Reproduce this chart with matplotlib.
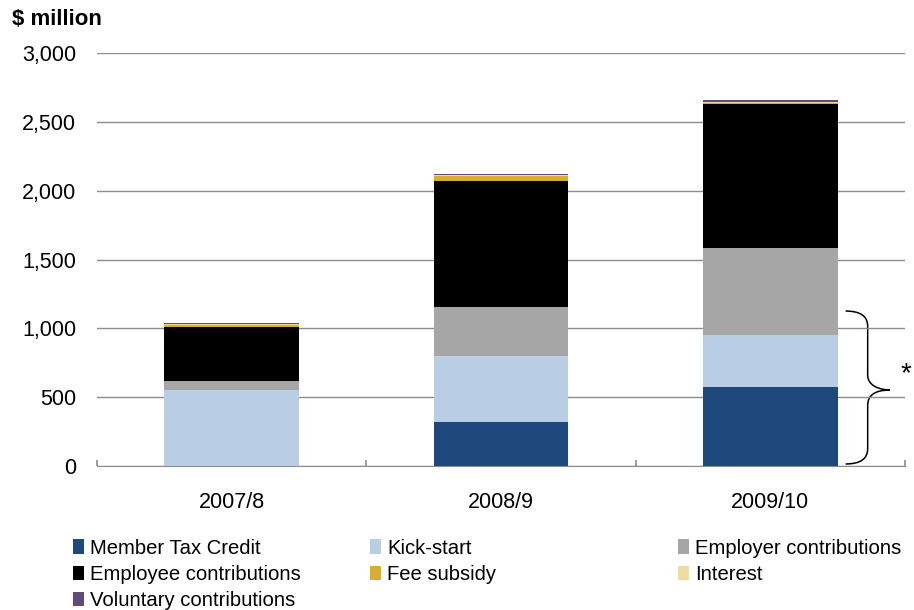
import numpy as np
import matplotlib.pyplot as plt
from matplotlib.path import Path
from matplotlib.patches import PathPatch, Patch

plt.rcParams['font.family'] = ['Liberation Sans', 'DejaVu Sans']

years = ['2007/8', '2008/9', '2009/10']
member_tax_credit = [0, 319, 573]
kick_start = [552, 480, 378]
employer = [65, 355, 632]
employee = [392, 915, 1045]
fee_subsidy = [16, 36, 10]
interest = [8, 12, 6]
voluntary = [5, 8, 13]

series = [
    ('Member Tax Credit', member_tax_credit, '#1F497D'),
    ('Kick-start', kick_start, '#B9CDE5'),
    ('Employer contributions', employer, '#A6A6A6'),
    ('Employee contributions', employee, '#000000'),
    ('Fee subsidy', fee_subsidy, '#D9AE2F'),
    ('Interest', interest, '#F0DCA0'),
    ('Voluntary contributions', voluntary, '#604A7B'),
]

fig = plt.figure(figsize=(9.14, 6.10), dpi=100)
ax = fig.add_axes([0.106, 0.236, 0.884, 0.677])

x = np.arange(len(years))
bottom = np.zeros(len(years))
for name, vals, col in series:
    ax.bar(x, vals, width=0.5, bottom=bottom, color=col, zorder=3)
    bottom += np.array(vals)

ax.set_xlim(-0.5, 2.5)
ax.set_ylim(0, 3000)
ax.set_yticks(np.arange(0, 3001, 500))
ax.set_yticklabels(['0', '500', '1,000', '1,500', '2,000', '2,500', '3,000'])
ax.yaxis.grid(True, color='#8C8C8C', linewidth=1, zorder=0)
ax.tick_params(axis='y', length=0, pad=15, labelsize=15.5)

ax.set_xticks(x)
ax.set_xticklabels(years)
ax.set_xticks([-0.5, 0.5, 1.5, 2.5], minor=True)
ax.tick_params(axis='x', which='major', length=0, pad=19, labelsize=15.5)
ax.tick_params(axis='x', which='minor', length=4, width=1.2, color='#8C8C8C', direction='in')

for s in ['left', 'right', 'top']:
    ax.spines[s].set_visible(False)
ax.spines['bottom'].set_color('#8C8C8C')

# curly brace next to the last bar
x0, x1, xt = 2.28, 2.362, 2.444
ytop, ymid, ybot = 1126, 552, 15
r = 110
verts = [(x0, ytop), (x1, ytop), (x1, ytop - r),
         (x1, ymid + r),
         (x1, ymid), (xt, ymid), (xt, ymid),
         (x1, ymid), (x1, ymid - r),
         (x1, ybot + r),
         (x1, ybot), (x0, ybot)]
codes = [Path.MOVETO, Path.CURVE3, Path.CURVE3,
         Path.LINETO,
         Path.CURVE4, Path.CURVE4, Path.CURVE4,
         Path.CURVE3, Path.CURVE3,
         Path.LINETO,
         Path.CURVE3, Path.CURVE3]
ax.add_patch(PathPatch(Path(verts, codes), fill=False, lw=1.1, color='black', clip_on=False))
ax.text(2.504, 665, '*', fontsize=20, ha='center', va='center', clip_on=False)

fig.text(0.013, 0.968, '$ million', fontsize=16, fontweight='bold', ha='left', va='center')

handles = [Patch(facecolor=c, edgecolor='none', label=n) for n, v, c in series]
cols = [[0, 3, 6], [1, 4], [2, 5]]
xpos = [0.080, 0.405, 0.742]
for xp, idx in zip(xpos, cols):
    fig.legend(handles=[handles[i] for i in idx], loc='upper left',
               bbox_to_anchor=(xp, 0.117), frameon=False, fontsize=14.6,
               handlelength=0.55, handleheight=0.7, handletextpad=0.3,
               labelspacing=0.36, borderaxespad=0, borderpad=0)

fig.savefig('out.png', dpi=100)
